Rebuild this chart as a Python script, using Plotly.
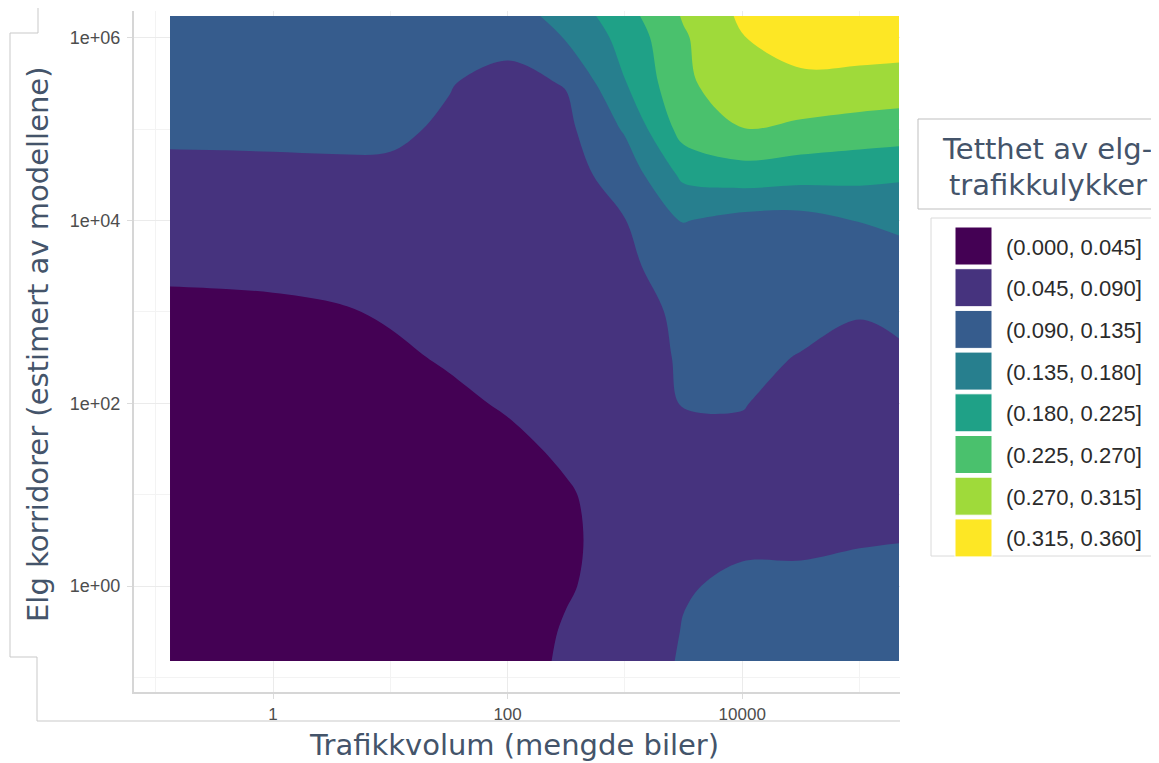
import plotly.graph_objects as go

# Grid positions (log10 of the axis values)
log10_traffic = [-0.878, -0.4, 0.0, 0.5, 1.0, 1.5, 2.0, 2.5, 3.0, 3.5, 4.0, 4.5, 5.0, 5.337]
log10_corridors = [-0.82, -0.5, 0.0, 0.5, 1.0, 1.5, 2.0, 2.5, 3.0, 3.5, 4.0, 4.5, 5.0, 5.5, 6.0, 6.236]

# Density values, one list per traffic grid column (bottom -> top)
density_t00 = [0.020, 0.020, 0.020, 0.022, 0.025, 0.028, 0.032, 0.037, 0.040, 0.049, 0.060, 0.080, 0.098, 0.110, 0.115, 0.115]
density_t01 = [0.020, 0.020, 0.020, 0.022, 0.025, 0.028, 0.032, 0.037, 0.040, 0.050, 0.060, 0.082, 0.097, 0.110, 0.115, 0.115]
density_t02 = [0.020, 0.020, 0.020, 0.022, 0.025, 0.028, 0.032, 0.037, 0.040, 0.052, 0.062, 0.083, 0.097, 0.110, 0.115, 0.115]
density_t03 = [0.022, 0.022, 0.022, 0.023, 0.025, 0.028, 0.032, 0.036, 0.042, 0.056, 0.065, 0.085, 0.096, 0.108, 0.113, 0.113]
density_t04 = [0.024, 0.024, 0.024, 0.025, 0.026, 0.028, 0.033, 0.040, 0.048, 0.060, 0.070, 0.085, 0.095, 0.105, 0.110, 0.110]
density_t05 = [0.025, 0.025, 0.025, 0.026, 0.028, 0.030, 0.039, 0.048, 0.055, 0.062, 0.068, 0.075, 0.086, 0.0915, 0.100, 0.105]
density_t06 = [0.030, 0.028, 0.027, 0.028, 0.030, 0.038, 0.048, 0.055, 0.060, 0.065, 0.070, 0.072, 0.075, 0.080, 0.100, 0.115]
density_t07 = [0.050, 0.048, 0.042, 0.040, 0.042, 0.050, 0.052, 0.055, 0.058, 0.062, 0.068, 0.075, 0.080, 0.092, 0.138, 0.151]
density_t08 = [0.062, 0.060, 0.058, 0.057, 0.058, 0.060, 0.065, 0.070, 0.070, 0.080, 0.089, 0.108, 0.140, 0.178, 0.195, 0.208]
density_t09 = [0.095, 0.092, 0.087, 0.075, 0.072, 0.078, 0.092, 0.095, 0.100, 0.115, 0.137, 0.190, 0.243, 0.2606, 0.265, 0.274]
density_t10 = [0.108, 0.105, 0.097, 0.084, 0.078, 0.080, 0.092, 0.100, 0.110, 0.115, 0.120, 0.205, 0.269, 0.300, 0.314, 0.322]
density_t11 = [0.112, 0.110, 0.100, 0.082, 0.072, 0.070, 0.075, 0.088, 0.103, 0.113, 0.118, 0.198, 0.259, 0.310, 0.325, 0.333]
density_t12 = [0.116, 0.113, 0.104, 0.087, 0.070, 0.065, 0.068, 0.080, 0.092, 0.120, 0.136, 0.194, 0.250, 0.3035, 0.333, 0.342]
density_t13 = [0.117, 0.114, 0.105, 0.089, 0.073, 0.066, 0.070, 0.085, 0.097, 0.115, 0.145, 0.187, 0.248, 0.2965, 0.337, 0.347]

level_start = 0.045
level_end = 0.315
level_size = 0.045

bin_labels = ["(0.000, 0.045]", "(0.045, 0.090]", "(0.090, 0.135]", "(0.135, 0.180]",
              "(0.180, 0.225]", "(0.225, 0.270]", "(0.270, 0.315]", "(0.315, 0.360]"]
bin_colors = ["#440154", "#46337E", "#365C8D", "#277F8E", "#1FA187", "#4AC16D", "#9FDA3A", "#FDE725"]

x_tickvals = [0, 2, 4]
x_ticktext = ["1", "100", "10000"]
y_tickvals = [0, 2, 4, 6]
y_ticktext = ["1e+00", "1e+02", "1e+04", "1e+06"]
x_minor = [-1, 1, 3, 5]
y_minor = [-1, 1, 3, 5]

columns = [density_t00, density_t01, density_t02, density_t03, density_t04, density_t05, density_t06,
           density_t07, density_t08, density_t09, density_t10, density_t11, density_t12, density_t13]
z = [list(row) for row in zip(*columns)]

n = len(bin_colors)
colorscale = [[k / (n - 1), c] for k, c in enumerate(bin_colors)]

fig = go.Figure()
fig.add_trace(go.Contour(
    x=log10_traffic, y=log10_corridors, z=z,
    contours=dict(start=level_start, end=level_end, size=level_size, coloring="fill", showlines=False),
    line=dict(width=0, smoothing=1.0),
    colorscale=colorscale, showscale=False, hoverinfo="skip",
))

# The page body has an 8px margin, so the figure is drawn 8px in from the window corner.
OFF = 8
W_FIG, H_FIG = 1159 - OFF, 763 - OFF
# plot-area edges in window pixels
L, T, R, B = 134, 11, 900, 692
PW, PH = R - L, B - T


def fx(px):
    return (px - L) / PW


def fy(py):
    return 1 - (py - T) / PH


grid_col = "#ebebeb"
frame_col = "#c9c9c9"
title_col = "#44546A"

fig.update_layout(
    width=W_FIG, height=H_FIG,
    margin=dict(l=L - OFF, r=W_FIG - (R - OFF), t=T - OFF, b=H_FIG - (B - OFF), pad=0),
    paper_bgcolor="white", plot_bgcolor="white",
    showlegend=False,
    xaxis=dict(range=[(L - 273) / 117.3, (R - 273) / 117.3], tickmode="array", tickvals=x_tickvals,
               ticktext=x_ticktext, showgrid=True, gridcolor=grid_col, gridwidth=1.2, zeroline=False,
               showline=True, linecolor="#d6d6d6", linewidth=2, ticks="outside", ticklen=5,
               tickcolor="#dcdcdc", ticklabelstandoff=1,
               tickfont=dict(family="Liberation Sans, Arial", size=17, color="#4d4d4d"),
               minor=dict(tickvals=x_minor, showgrid=True, gridcolor="#f3f3f3", gridwidth=1, ticks=""),
               fixedrange=True),
    yaxis=dict(range=[(586 - B) / 91.4, (586 - T) / 91.4], tickmode="array", tickvals=y_tickvals,
               ticktext=y_ticktext, showgrid=True, gridcolor=grid_col, gridwidth=1.2, zeroline=False,
               showline=True, linecolor="#d6d6d6", linewidth=2, ticks="outside", ticklen=5,
               tickcolor="#dcdcdc", ticklabelstandoff=3,
               tickfont=dict(family="Liberation Sans, Arial", size=18, color="#4d4d4d"),
               minor=dict(tickvals=y_minor, showgrid=True, gridcolor="#f3f3f3", gridwidth=1, ticks=""),
               fixedrange=True),
)

shapes = []
# bracket-like frame on the left and bottom
frame_pts = [(38, 0), (38, 33), (10, 33), (10, 657), (37, 657), (37, 721), (900, 721)]
for (x0, y0), (x1, y1) in zip(frame_pts[:-1], frame_pts[1:]):
    shapes.append(dict(type="line", xref="paper", yref="paper", x0=fx(x0), y0=fy(y0), x1=fx(x1), y1=fy(y1),
                       line=dict(color=frame_col, width=1)))
# legend title box
shapes.append(dict(type="rect", xref="paper", yref="paper", x0=fx(918), y0=fy(119), x1=fx(1162), y1=fy(209),
                   line=dict(color="#bfbfbf", width=1), fillcolor="white"))
# legend key box
shapes.append(dict(type="rect", xref="paper", yref="paper", x0=fx(931), y0=fy(218), x1=fx(1157), y1=fy(556),
                   line=dict(color="#dadada", width=1), fillcolor="white"))

annotations = []
for k, (lab, col) in enumerate(zip(bin_labels, bin_colors)):
    top = 227 + k * 41.7
    shapes.append(dict(type="rect", xref="paper", yref="paper", x0=fx(955), y0=fy(top), x1=fx(992),
                       y1=fy(top + 38), line=dict(color="white", width=1), fillcolor=col))
    annotations.append(dict(xref="paper", yref="paper", x=fx(1004), y=fy(top + 20), text=lab, showarrow=False,
                            xanchor="left", yanchor="middle",
                            font=dict(family="Liberation Sans, Arial", size=22, color="#2b2b2b")))

annotations.append(dict(xref="paper", yref="paper", x=fx(1047), y=fy(149), text="Tetthet av elg-",
                        showarrow=False, xanchor="center", yanchor="middle",
                        font=dict(family="DejaVu Sans", size=29, color=title_col)))
annotations.append(dict(xref="paper", yref="paper", x=fx(1048), y=fy(185), text="trafikkulykker",
                        showarrow=False, xanchor="center", yanchor="middle",
                        font=dict(family="DejaVu Sans", size=29, color=title_col)))
annotations.append(dict(xref="paper", yref="paper", x=fx(514), y=fy(745), text="Trafikkvolum (mengde biler)",
                        showarrow=False, xanchor="center", yanchor="middle",
                        font=dict(family="DejaVu Sans", size=29, color=title_col)))
annotations.append(dict(xref="paper", yref="paper", x=fx(38), y=fy(344),
                        text="Elg korridorer (estimert av modellene)", textangle=-90,
                        showarrow=False, xanchor="center", yanchor="middle",
                        font=dict(family="DejaVu Sans", size=29, color=title_col)))

fig.update_layout(shapes=shapes, annotations=annotations)
fig.write_html("out.html")
